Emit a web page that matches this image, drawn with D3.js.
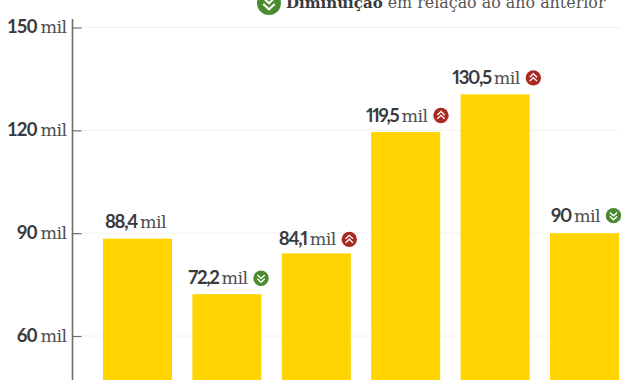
<!DOCTYPE html>
<html>
<head>
<meta charset="utf-8">
<script src="https://cdn.jsdelivr.net/npm/d3@7"></script>
<style>
  html, body { margin: 0; padding: 0; background: #fff; overflow: hidden; }
  text { fill: #3a3a3c; }
  .num { font-family: Lato, sans-serif; font-weight: 700; font-size: 18.5px; letter-spacing: -0.9px; }
  .value .num { letter-spacing: -1.3px; font-variant-numeric: proportional-nums; }
  .unit { font-family: "DejaVu Serif", serif; font-size: 17.5px; letter-spacing: -0.6px; fill: #4f4f51; }
  .legend-b { font-family: "DejaVu Serif", serif; font-weight: 700; font-size: 15px; }
  .legend-t { font-family: "DejaVu Serif", serif; font-size: 15.9px; fill: #555; }
</style>
</head>
<body>
<div id="chart"></div>
<script>
const width = 640;
const height = 380;

// one band per bar, the category labels are cropped out of the picture
const positions = [0, 1, 2, 3, 4, 5];
const values = [88.4, 72.2, 84.1, 119.5, 130.5, 90];
const valueLabels = ["88,4", "72,2", "84,1", "119,5", "130,5", "90"];
const changes = [null, "down", "up", "up", "up", "down"];
const yTicks = [60, 90, 120, 150];

// the labels don't sit at one fixed distance from the bars
const labelGaps = [10.5, 10, 8, 10.5, 10.5, 11.5];

const colors = { bar: "#ffd400", up: "#a82a22", down: "#4c8a2f", grid: "#f2f2f2", axis: "#6d6d6d" };

const svg = d3.select("#chart")
  .append("svg")
  .attr("width", width)
  .attr("height", height)
  .style("display", "block");

const y = d3.scaleLinear()
  .domain([60, 150])
  .range([336, 27.5]);

const x = d3.scaleBand()
  .domain(positions)
  .range([103, 619])
  .paddingInner(0.228)
  .paddingOuter(0);

// grid
svg.append("g")
  .selectAll("line")
  .data(yTicks)
  .enter()
  .append("line")
  .attr("x1", 81)
  .attr("x2", 620)
  .attr("y1", d => y(d))
  .attr("y2", d => y(d))
  .attr("stroke", colors.grid);

// bars
svg.append("g")
  .selectAll("rect")
  .data(values)
  .enter()
  .append("rect")
  .attr("x", (d, i) => x(i))
  .attr("y", d => y(d))
  .attr("width", x.bandwidth())
  .attr("height", d => height - y(d))
  .attr("fill", colors.bar);

// axis, ticks point into the plot
const axis = svg.append("g")
  .attr("transform", "translate(72.5,0)")
  .call(d3.axisLeft(y).tickValues(yTicks).tickSize(-9).tickFormat(""));

axis.select(".domain").remove();
axis.selectAll(".tick line").attr("stroke", colors.axis).attr("stroke-width", 1.2);

axis.append("line")
  .attr("y1", 19)
  .attr("y2", height)
  .attr("stroke", colors.axis)
  .attr("stroke-width", 1.6);

const tickText = axis.selectAll(".tick text")
  .attr("x", -6)
  .attr("dy", null)
  .attr("y", 5)
  .attr("text-anchor", "end")
  .style("fill", null);
tickText.append("tspan").attr("class", "num").text(d => d);
tickText.append("tspan").attr("class", "unit").attr("dx", 4).text("mil");

function icon(g, cx, cy, r, kind) {
  const s = r / 8;
  const dir = kind === "up" ? 1 : -1;
  g.append("circle")
    .attr("cx", cx)
    .attr("cy", cy)
    .attr("r", r)
    .attr("fill", colors[kind]);
  [-2.6, 1.4].forEach(off => {
    g.append("path")
      .attr("d", `M${cx - 3.8 * s},${cy + dir * (off + 2) * s}L${cx},${cy + dir * (off - 1.6) * s}L${cx + 3.8 * s},${cy + dir * (off + 2) * s}`)
      .attr("fill", "none")
      .attr("stroke", "#fff")
      .attr("stroke-width", 1.4 * s);
  });
}

// value labels, text plus icon centered over the bar
values.forEach((v, i) => {
  const g = svg.append("g").attr("class", "value");
  const baseline = y(v) - labelGaps[i];
  const t = g.append("text").attr("y", baseline);
  t.append("tspan").attr("class", "num").text(valueLabels[i]);
  t.append("tspan").attr("class", "unit").attr("dx", 3).text("mil");

  const w = t.node().getComputedTextLength() + 3;
  const hasIcon = changes[i] !== null;
  const total = w + (hasIcon ? 21 : 0);
  const left = x(i) + x.bandwidth() / 2 - total / 2 + (hasIcon ? 1.5 : -2);
  t.attr("x", left);
  if (hasIcon) icon(g, left + total - 7.5, baseline - 6, 7.7, changes[i]);
});

// legend, cropped by the top edge
const legend = svg.append("g");
icon(legend, 269, 3, 12, "down");
const lt = legend.append("text").attr("x", 286).attr("y", 8);
lt.append("tspan").attr("class", "legend-b").text("Diminuição");
lt.append("tspan").attr("class", "legend-t").attr("dx", 5).text("em relação ao ano anterior");
</script>
</body>
</html>
